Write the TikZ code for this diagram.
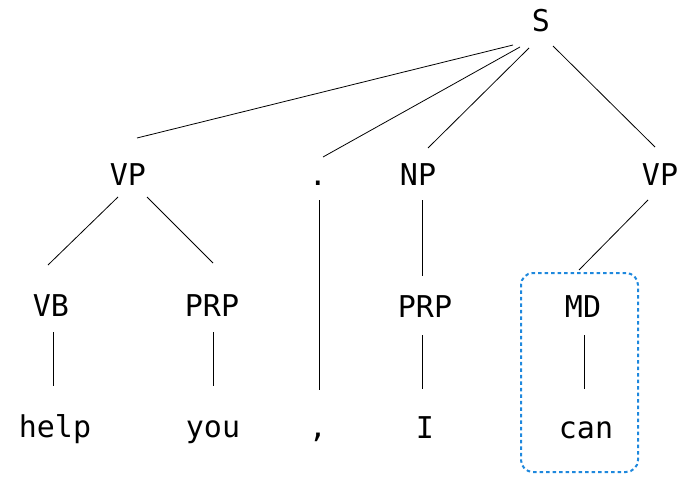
\documentclass[tikz,border=0pt]{standalone}
\usepackage{fontspec}
\setmonofont{DejaVu Sans Mono}
\usetikzlibrary{calc}
\definecolor{hlblue}{HTML}{1E88DD}
\begin{document}
\begin{tikzpicture}[x=1pt,y=-1pt,
  lbl/.style={anchor=base,inner sep=0pt,font=\ttfamily\fontsize{30}{36}\selectfont},
  edge/.style={draw=black,line width=0.8pt},
  hl/.style={draw=hlblue,line width=2pt,dash pattern=on 3.5pt off 3pt,rounded corners=12pt}]
\useasboundingbox (0,0) rectangle (683,495);
% nodes
\node[lbl] (S) at (541,32) {S};
\node[lbl] (VP1) at (128,185) {VP};
\node[lbl] (DOT) at (318,185) {.};
\node[lbl] (NP) at (418,185) {NP};
\node[lbl] (VP2) at (660,185) {VP};
\node[lbl] (VB) at (51,316) {VB};
\node[lbl] (PRP1) at (212,316) {PRP};
\node[lbl] (PRP2) at (425,317) {PRP};
\node[lbl] (MD) at (583,317) {MD};
\node[lbl] (help) at (55,437) {help};
\node[lbl] (you) at (213,437) {you};
\node[lbl] (comma) at (318,437) {,};
\node[lbl] (I) at (425,438) {I};
\node[lbl] (can) at (586,438) {can};
% highlight box
\node[hl,minimum width=117pt,minimum height=199pt,inner sep=0pt] (box) at (579.5,372.5) {};
% edges
\draw[edge] ($(S.base)+(-28,13)$) -- ($(VP1.base)+(9,-47)$);
\draw[edge] ($(S.base)+(-21,15)$) -- ($(DOT.base)+(5,-28)$);
\draw[edge] ($(S.base)+(-12,16)$) -- ($(NP.base)+(10,-37)$);
\draw[edge] ($(S.base)+(12,14)$) -- ($(VP2.base)+(-5,-38)$);
\draw[edge] ($(VP1.base)+(-10,12)$) -- ($(VB.base)+(-3,-51)$);
\draw[edge] ($(VP1.base)+(19,12)$) -- ($(PRP1.base)+(1,-53)$);
\draw[edge] ($(DOT.base)+(1,15)$) -- ($(comma.base)+(1,-47)$);
\draw[edge] ($(NP.base)+(4,15)$) -- ($(PRP2.base)+(-3,-41)$);
\draw[edge] ($(VP2.base)+(-12,15)$) -- ($(MD.base)+(-4,-47)$);
\draw[edge] ($(VB.base)+(2,16)$) -- ($(help.base)+(-2,-51)$);
\draw[edge] ($(PRP1.base)+(1,16)$) -- ($(you.base)+(0,-51)$);
\draw[edge] ($(PRP2.base)+(-3,18)$) -- ($(I.base)+(-3,-49)$);
\draw[edge] ($(MD.base)+(1,18)$) -- ($(can.base)+(-2,-49)$);
\end{tikzpicture}
\end{document}
